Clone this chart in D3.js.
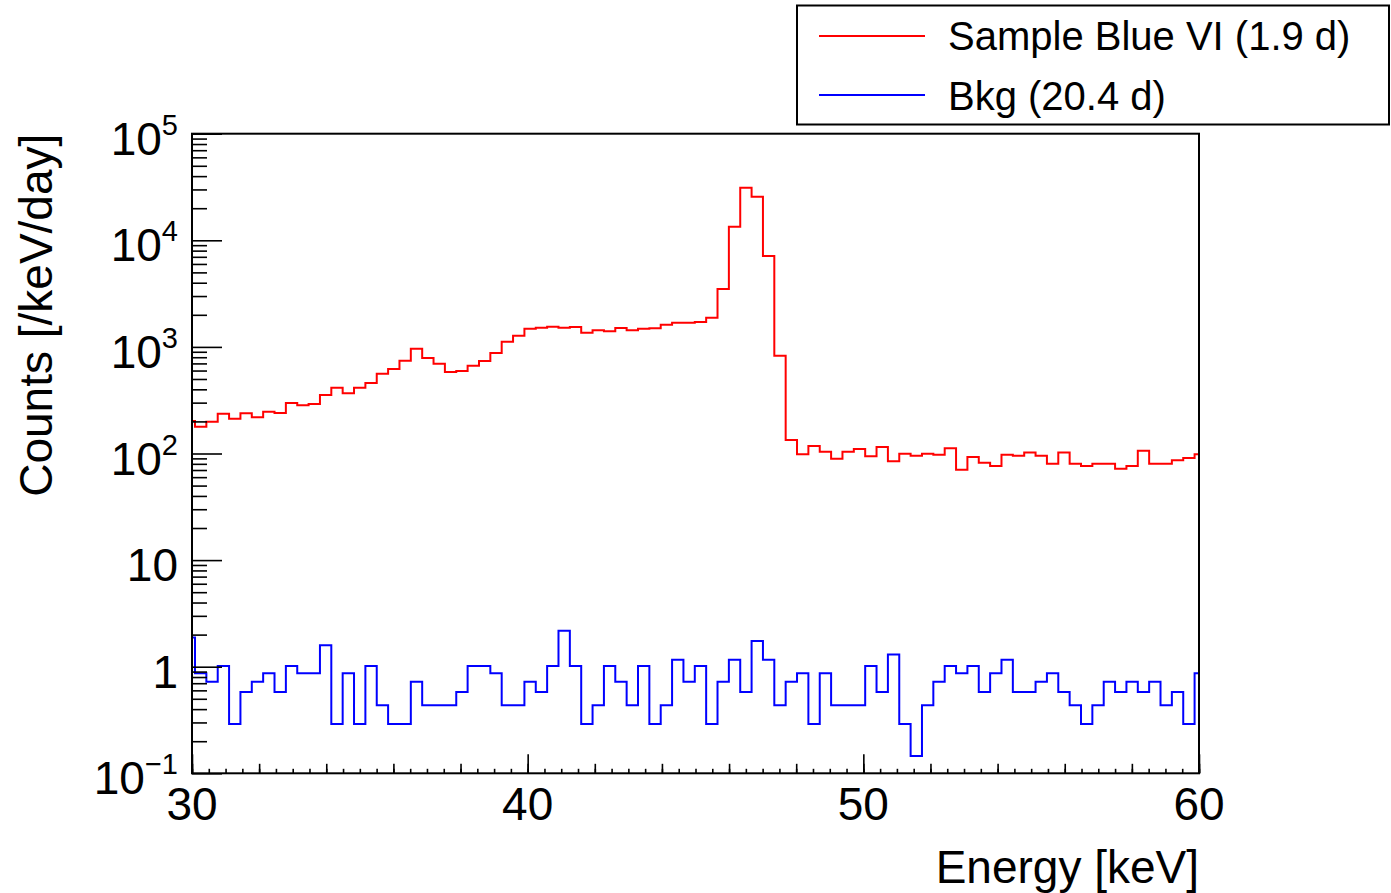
<!DOCTYPE html>
<html>
<head>
<meta charset="utf-8">
<script src="https://cdn.jsdelivr.net/npm/d3@7"></script>
<style>
  html, body { margin: 0; padding: 0; background: #fff; }
  svg { display: block; }
  text { font-family: "Liberation Sans", Arial, Helvetica, sans-serif; fill: #000; }
</style>
</head>
<body>
<svg id="chart" width="1391" height="893"></svg>
<script>
// Histogram binning (keV)
const binLowEdge = 29.751;
const binWidth = 0.3384;

// Sample spectrum, counts per keV per day (1.9 d live time)
const sampleRate = [
  202, 178, 199, 236, 212, 238, 219, 247, 240, 298,
  283, 291, 354, 414, 367, 414, 458, 561, 621, 743,
  962, 787, 696, 582, 594, 667, 738, 877, 1119, 1274,
  1478, 1510, 1546, 1514, 1537, 1360, 1431, 1400, 1504, 1431,
  1482, 1493, 1614, 1686, 1686, 1713, 1880, 3490, 13430, 31100,
  25640, 7120, 827, 134, 98.2, 117.5, 104, 89.3, 104, 110,
  94, 115, 84.5, 99.5, 95.3, 99.5, 97.5, 112, 70.5, 92.7,
  82, 76.4, 97.5, 95.3, 102, 95.3, 80.2, 102, 80.2, 76.4,
  80.2, 80.2, 72, 76.4, 106, 80.2, 80.2, 86.3, 90.8, 98.2
];

// Background spectrum, counts per keV per day (20.4 d live time)
const bkgRate = [
  1.883, 0.869, 0.724, 1.014, 0.290, 0.579, 0.724, 0.869, 0.579, 1.014,
  0.869, 0.869, 1.593, 0.290, 0.869, 0.290, 1.014, 0.435, 0.290, 0.290,
  0.724, 0.435, 0.435, 0.435, 0.579, 1.014, 1.014, 0.869, 0.435, 0.435,
  0.724, 0.579, 1.014, 2.173, 1.014, 0.290, 0.435, 1.014, 0.724, 0.435,
  1.014, 0.290, 0.435, 1.159, 0.724, 1.014, 0.290, 0.724, 1.159, 0.579,
  1.738, 1.159, 0.435, 0.724, 0.869, 0.290, 0.869, 0.435, 0.435, 0.435,
  1.014, 0.579, 1.304, 0.290, 0.145, 0.435, 0.724, 1.014, 0.869, 1.014,
  0.579, 0.869, 1.159, 0.579, 0.579, 0.724, 0.869, 0.579, 0.435, 0.290,
  0.435, 0.724, 0.579, 0.724, 0.579, 0.724, 0.435, 0.579, 0.290, 0.869
];

const seriesNames = ["Sample Blue VI (1.9 d)", "Bkg (20.4 d)"];
const seriesColors = ["#ff0000", "#0000ff"];

const xMajorTicks = [30, 40, 50, 60];
const yMajorTicks = [0.1, 1, 10, 100, 1000, 10000, 100000];
const yTickLabels = [["10", "\u22121"], ["1", null], ["10", null], ["10", "2"], ["10", "3"], ["10", "4"], ["10", "5"]];

const xTitle = "Energy [keV]";
const yTitle = "Counts [/keV/day]";

// Frame geometry
const frameL = 192, frameR = 1199, frameT = 133.7, frameB = 773.3;

const svg = d3.select("#chart");
const x = d3.scaleLinear().domain([30, 60]).range([frameL, frameR]);
const y = d3.scaleLog().domain([0.1, 1e5]).range([frameB, frameT]);

svg.append("defs").append("clipPath").attr("id", "frameClip")
  .append("rect").attr("x", frameL).attr("y", frameT)
  .attr("width", frameR - frameL).attr("height", frameB - frameT);

// Step outline of a histogram
function stepPoints(values) {
  const pts = [];
  values.forEach((v, i) => {
    const lo = binLowEdge + i * binWidth;
    pts.push([lo, v], [lo + binWidth, v]);
  });
  return pts;
}
const line = d3.line().x(d => x(d[0])).y(d => y(d[1]));

const plot = svg.append("g").attr("clip-path", "url(#frameClip)");
[sampleRate, bkgRate].forEach((vals, k) => {
  plot.append("path")
    .attr("d", line(stepPoints(vals)))
    .attr("fill", "none")
    .attr("stroke", seriesColors[k])
    .attr("stroke-width", 2)
    .attr("stroke-linejoin", "miter");
});

// X axis ticks (inside the frame)
const xAxisG = svg.append("g").attr("transform", `translate(0,${frameB})`);
const xSmall = d3.range(30, 60.001, 0.5);
const xMed = d3.range(30, 60.001, 2);
xAxisG.append("g").call(d3.axisBottom(x).tickValues(xSmall).tickSize(-4.5).tickFormat(""));
xAxisG.append("g").call(d3.axisBottom(x).tickValues(xMed).tickSize(-9.5).tickFormat(""));
xAxisG.append("g").call(d3.axisBottom(x).tickValues(xMajorTicks).tickSize(-19).tickFormat(""));
xAxisG.selectAll(".domain").remove();
xAxisG.selectAll("line").attr("stroke", "#000").attr("stroke-width", 1.6);

// Y axis ticks (inside the frame)
const yAxisG = svg.append("g").attr("transform", `translate(${frameL},0)`);
const yMinor = [];
for (let e = -1; e < 5; e++) for (let m = 2; m <= 9; m++) yMinor.push(m * Math.pow(10, e));
yAxisG.append("g").call(d3.axisLeft(y).tickValues(yMinor).tickSize(-15).tickFormat(""));
yAxisG.append("g").call(d3.axisLeft(y).tickValues(yMajorTicks).tickSize(-30).tickFormat(""));
yAxisG.selectAll(".domain").remove();
yAxisG.selectAll("line").attr("stroke", "#000").attr("stroke-width", 1.6);

// Frame
svg.append("rect").attr("x", frameL).attr("y", frameT)
  .attr("width", frameR - frameL).attr("height", frameB - frameT)
  .attr("fill", "none").attr("stroke", "#000").attr("stroke-width", 2);

// X tick labels
svg.append("g").selectAll("text").data(xMajorTicks).join("text")
  .attr("x", d => x(d)).attr("y", 820)
  .attr("text-anchor", "middle").attr("font-size", 46)
  .text(d => d);

// Y tick labels with exponents
const yLab = svg.append("g").selectAll("text").data(yMajorTicks.map((v, i) => [v, yTickLabels[i]])).join("text")
  .attr("x", 178).attr("y", d => y(d[0]) + 21)
  .attr("text-anchor", "end").attr("font-size", 46);
yLab.append("tspan").text(d => d[1][0]);
yLab.filter(d => d[1][1] !== null).append("tspan")
  .attr("font-size", 29).attr("dy", -20)
  .text(d => d[1][1]);

// Axis titles
svg.append("text").attr("x", frameR).attr("y", 883)
  .attr("text-anchor", "end").attr("font-size", 46).text(xTitle);
svg.append("text").attr("transform", `translate(52,${frameT}) rotate(-90)`)
  .attr("text-anchor", "end").attr("font-size", 46).text(yTitle);

// Legend
const lg = svg.append("g");
lg.append("rect").attr("x", 797).attr("y", 5.5).attr("width", 592).attr("height", 119)
  .attr("fill", "#fff").attr("stroke", "#000").attr("stroke-width", 2);
const rowsY = [36, 95];
const baseY = [49.5, 109.5];
seriesNames.forEach((name, k) => {
  lg.append("line").attr("x1", 819).attr("x2", 925)
    .attr("y1", rowsY[k]).attr("y2", rowsY[k])
    .attr("stroke", seriesColors[k]).attr("stroke-width", 2);
  lg.append("text").attr("x", 948).attr("y", baseY[k])
    .attr("font-size", 40).text(name);
});
</script>
</body>
</html>
